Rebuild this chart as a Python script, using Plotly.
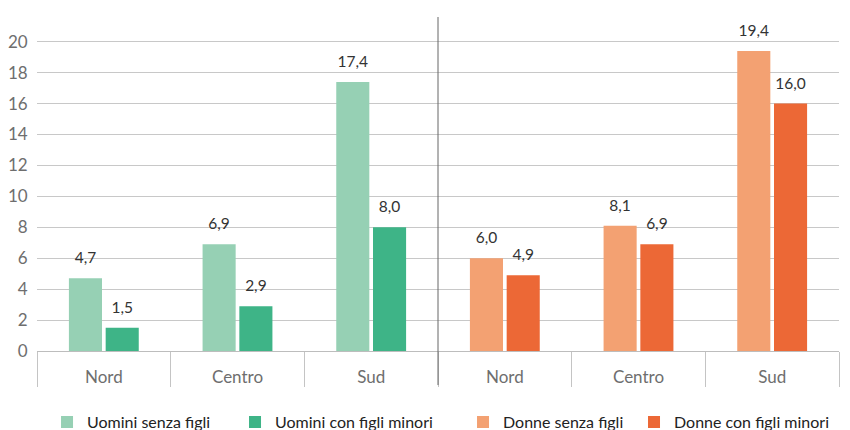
import plotly.graph_objects as go

regions = ["Nord", "Centro", "Sud"]
groups = ["Uomini", "Donne"]
x_keys = [g + " " + r for g in groups for r in regions]
tick_labels = regions + regions

uomini_senza = [4.7, 6.9, 17.4]
uomini_con = [1.5, 2.9, 8.0]
donne_senza = [6.0, 8.1, 19.4]
donne_con = [4.9, 6.9, 16.0]

series = [
    ("Uomini senza figli", x_keys[:3], uomini_senza, "#96D0B4", "a", "legend", 0.0125),
    ("Uomini con figli minori", x_keys[:3], uomini_con, "#3EB487", "b", "legend2", 0.2469),
    ("Donne senza figli", x_keys[3:], donne_senza, "#F3A172", "a", "legend3", 0.5312),
    ("Donne con figli minori", x_keys[3:], donne_con, "#EC6836", "b", "legend4", 0.7444),
]

fig = go.Figure()
legends = {}
for name, xs, ys, color, og, lg, lx in series:
    fig.add_trace(go.Bar(
        name=name, x=xs, y=ys, marker_color=color, marker_line_width=0,
        offsetgroup=og, cliponaxis=False, legend=lg,
    ))
    legends[lg] = dict(orientation="h", x=lx, xanchor="left", y=-0.213, yanchor="middle",
                       font=dict(size=16, color="#222222"), bgcolor="rgba(0,0,0,0)")

# value labels (same data, placed above each bar)
for name, xs, ys, color, og, lg, lx in series:
    fig.add_trace(go.Scatter(
        x=xs, y=ys, mode="markers+text", offsetgroup=og, showlegend=False,
        marker=dict(size=16, color="rgba(0,0,0,0)"), hoverinfo="skip",
        texttemplate="%{y:.1f}", textposition="top center",
        textfont=dict(size=15.5, color="#333333", family="Lato"),
        cliponaxis=False,
    ))

fig.update_layout(
    width=842, height=430,
    margin=dict(l=29, r=11, t=9, b=87, autoexpand=False),
    plot_bgcolor="white", paper_bgcolor="white",
    font=dict(family="Lato", size=15, color="#6e6e6e"),
    separators=",.",
    barmode="group", bargap=0.45, bargroupgap=0.1,
    scattermode="group", scattergap=0.45,
    showlegend=True,
    xaxis=dict(type="category", categoryorder="array", categoryarray=x_keys,
               tickvals=x_keys, ticktext=tick_labels, automargin=False,
               ticks="outside", tickson="boundaries", ticklen=35, tickcolor="#c4c4c4",
               tickwidth=1, showline=True, linecolor="#bdbdbd", linewidth=1,
               showgrid=False, ticklabelstandoff=11,
               tickfont=dict(size=17, color="#6e6e6e")),
    yaxis=dict(range=[0, 21.6], dtick=2, tick0=0, showgrid=True, gridcolor="#c8c8c8",
               gridwidth=1, zeroline=False, showline=False, automargin=False,
               ticks="outside", ticklen=5, tickcolor="rgba(0,0,0,0)",
               tickfont=dict(size=17, color="#6e6e6e")),
    **legends,
)

fig.add_shape(type="line", xref="x", yref="paper", x0=2.5, x1=2.5, y0=-0.102, y1=1,
              line=dict(color="#666666", width=1), layer="above")

fig.write_html("out.html")
